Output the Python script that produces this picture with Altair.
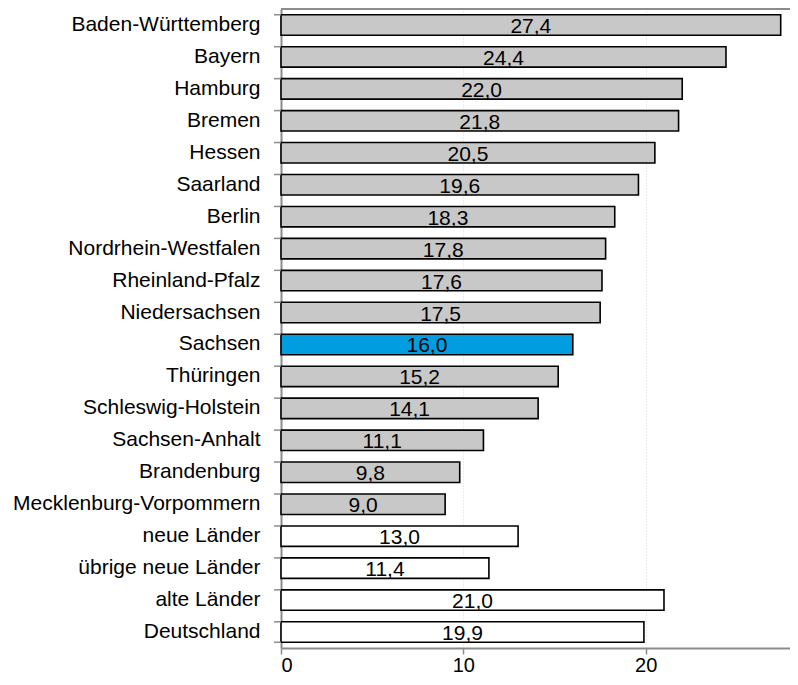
import altair as alt
import pandas as pd

regions = ["Baden-Württemberg", "Bayern", "Hamburg", "Bremen", "Hessen", "Saarland",
           "Berlin", "Nordrhein-Westfalen", "Rheinland-Pfalz", "Niedersachsen",
           "Sachsen\u00a0", "Thüringen", "Schleswig-Holstein", "Sachsen-Anhalt",
           "Brandenburg", "Mecklenburg-Vorpommern", "neue Länder",
           "übrige neue Länder", "alte Länder", "Deutschland"]
values = [27.4, 24.4, 22.0, 21.8, 20.5, 19.6, 18.3, 17.8, 17.6, 17.5,
          16.0, 15.2, 14.1, 11.1, 9.8, 9.0, 13.0, 11.4, 21.0, 19.9]
groups = ["land"] * 10 + ["sachsen"] + ["land"] * 5 + ["summary"] * 4

df = pd.DataFrame({"region": regions, "value": values, "group": groups})
df["label"] = [f"{v:.1f}".replace(".", ",") for v in values]
df["half"] = df["value"] / 2
df["order"] = range(len(df))

W, H = 509, 639
FONT = "Liberation Sans"
GRAY = "#8c8c8c"

y_enc = alt.Y("region:N", sort=regions, title=None,
              scale=alt.Scale(paddingInner=0.36, paddingOuter=0.18),
              axis=alt.Axis(labelFont=FONT, labelFontSize=21, labelColor="black",
                            ticks=False, tickSize=0, labelPadding=21,
                            domainColor=GRAY, domainWidth=2, labelLimit=300))
x_scale = alt.Scale(domain=[0, 27.91], nice=False)

bars = alt.Chart(df).mark_bar(stroke="black", strokeWidth=1.6).encode(
    x=alt.X("value:Q", scale=x_scale, title=None,
            axis=alt.Axis(values=[0, 10, 20], labelFont=FONT, labelFontSize=20,
                          labelColor="black", domainColor=GRAY, domainWidth=2,
                          tickColor=GRAY, tickWidth=1.5, tickSize=6, labelPadding=1,
                          grid=True, gridColor="#d9d9d9", gridDash=[1, 2], gridWidth=1)),
    y=y_enc,
    fill=alt.Fill("group:N", legend=None,
                  scale=alt.Scale(domain=["land", "sachsen", "summary"],
                                  range=["#c8c8c8", "#009de0", "#ffffff"])),
)

labels = alt.Chart(df).mark_text(font=FONT, fontSize=21, color="black",
                                 align="center", baseline="alphabetic", dy=8).encode(
    x=alt.X("half:Q", scale=x_scale),
    y=alt.Y("region:N", sort=regions),
    text="label:N",
)

ticks_top = alt.Chart(df).mark_rule(color=GRAY, strokeWidth=1.5).encode(
    y=alt.Y("region:N", sort=regions, bandPosition=0),
    x=alt.value(-7), x2=alt.value(0),
)
ticks_bottom = alt.Chart(df).transform_filter(
    alt.datum.order == len(regions) - 1
).mark_rule(color=GRAY, strokeWidth=1.5).encode(
    y=alt.Y("region:N", sort=regions, bandPosition=1),
    x=alt.value(-7), x2=alt.value(0),
)
top_line = alt.Chart(df).transform_filter(alt.datum.order == 0).mark_rule(
    color=GRAY, strokeWidth=2).encode(
    y=alt.value(0), x=alt.value(0), x2=alt.value(W),
)

chart = alt.layer(bars, labels, ticks_top, ticks_bottom, top_line).properties(
    width=W, height=H,
    autosize=alt.AutoSizeParams(type="none"),
    padding={"left": 273, "top": 1, "right": 0, "bottom": 29},
).configure_view(stroke=None).configure(background="white")

chart.save("out.html", embed_options={"renderer": "svg", "actions": False})
